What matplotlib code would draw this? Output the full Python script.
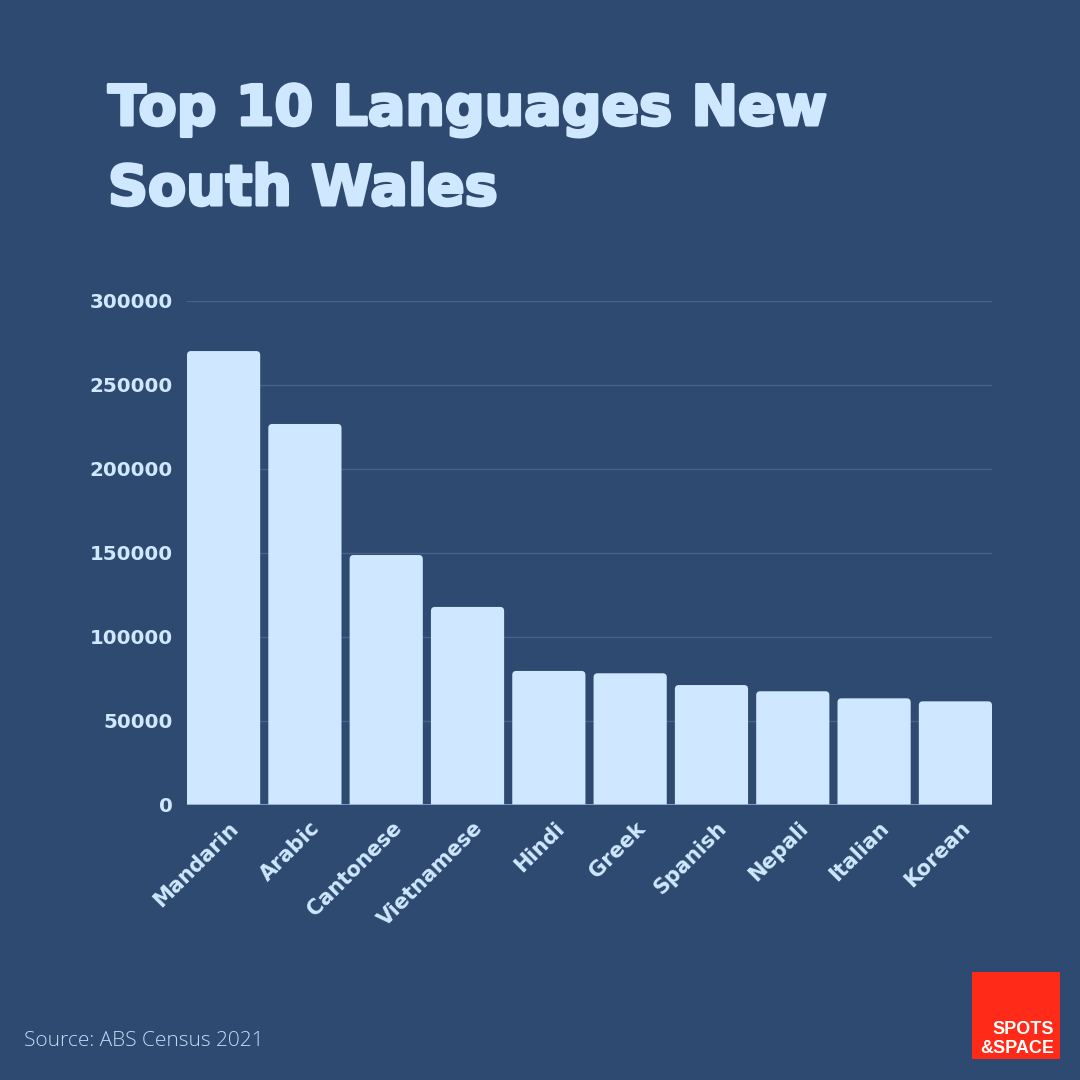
import matplotlib
matplotlib.use("Agg")
import matplotlib.pyplot as plt
from matplotlib.patches import FancyBboxPatch
from matplotlib.ticker import FixedLocator
import matplotlib.transforms as mtransforms
import matplotlib.patheffects as pe

languages = ["Mandarin", "Arabic", "Cantonese", "Vietnamese", "Hindi",
             "Greek", "Spanish", "Nepali", "Italian", "Korean"]
speakers = [270200, 226800, 148800, 117900, 79800,
            78400, 71400, 67700, 63500, 61700]
y_ticks = [0, 50000, 100000, 150000, 200000, 250000, 300000]
title_lines = ["Top 10 Languages New", "South Wales"]
source_text = "Source: ABS Census 2021"
logo_lines = ["SPOTS", "&SPACE"]

BG = "#2E4A70"
LIGHT = "#D0E8FF"
GRID = "#47638A"

fig = plt.figure(figsize=(10.8, 10.8), dpi=100, facecolor=BG)
ax = fig.add_axes([187/1080, 1 - 805/1080, (992 - 187)/1080, (805 - 301)/1080])
ax.set_facecolor(BG)

bars = ax.bar(range(len(languages)), speakers, width=0.9, color=LIGHT)
ax.set_xlim(-0.45, len(languages) - 0.55)
ax.set_ylim(0, 300000)
fig.canvas.draw()

# rounded bar tops built from the bar geometry
px_x = ax.transData.transform((1, 0))[0] - ax.transData.transform((0, 0))[0]
px_y = ax.transData.transform((0, 1))[1] - ax.transData.transform((0, 0))[1]
aspect = px_x / px_y
r = 4.0 / px_x
for b in bars:
    x0, w, h = b.get_x(), b.get_width(), b.get_height()
    b.set_visible(False)
    p = FancyBboxPatch((x0 + r, -r * aspect * 2), w - 2 * r, h + r * aspect * 2 - r * aspect,
                       boxstyle=f"round,pad={r},rounding_size={r}",
                       mutation_aspect=aspect, facecolor=LIGHT, edgecolor="none",
                       zorder=3, clip_on=True)
    ax.add_patch(p)
    p.set_clip_path(ax.patch)

ax.yaxis.set_major_locator(FixedLocator(y_ticks))
ax.set_yticklabels([str(v) for v in y_ticks])
ax.grid(axis="y", color=GRID, linewidth=1)
ax.set_axisbelow(True)
ax.axhline(0, color="#8AA6C8", linewidth=1.2, zorder=4)
for s in ax.spines.values():
    s.set_visible(False)
ax.tick_params(axis="both", length=0, colors=LIGHT)
ax.tick_params(axis="y", pad=10)
ax.set_xticks(range(len(languages)))
ax.set_xticklabels(languages, rotation=45, ha="right", va="top", rotation_mode="anchor")
offset = mtransforms.ScaledTranslation(5/100, -8/100, fig.dpi_scale_trans)
for lbl in ax.get_xticklabels():
    lbl.set_transform(lbl.get_transform() + offset)
    lbl.set_fontsize(15)
    lbl.set_fontweight("bold")
    lbl.set_family(["DejaVu Sans"])
    lbl.set_color(LIGHT)
for lbl in ax.get_yticklabels():
    lbl.set_fontsize(14.3)
    lbl.set_fontweight("bold")
    lbl.set_family(["DejaVu Sans"])
    lbl.set_color(LIGHT)

for i, line in enumerate(title_lines):
    fig.text(108/1080, 1 - (125 + i * 80)/1080, line, color=LIGHT, fontsize=40,
             fontweight="bold", family=["DejaVu Sans"], ha="left", va="baseline",
             path_effects=[pe.withStroke(linewidth=2.2, foreground=LIGHT)])

fig.text(24/1080, 1 - 1046/1080, source_text, color="#BFDCF5", fontsize=15,
         fontweight="light", family=["Open Sans", "DejaVu Sans"], ha="left", va="baseline")

# logo
logo_ax = fig.add_axes([972/1080, 1 - 1059/1080, 88/1080, 87/1080])
logo_ax.set_facecolor("#FF2A17")
logo_ax.set_xticks([]); logo_ax.set_yticks([])
for s in logo_ax.spines.values():
    s.set_visible(False)
for txt, base in zip(logo_lines, (1034, 1053)):
    logo_ax.text(1054/1080, 1 - base/1080, txt, color="white", fontsize=13,
                 fontweight="bold", family=["Liberation Sans", "DejaVu Sans"],
                 ha="right", va="baseline", transform=fig.transFigure)

fig.savefig("out.png", dpi=100, facecolor=BG)
